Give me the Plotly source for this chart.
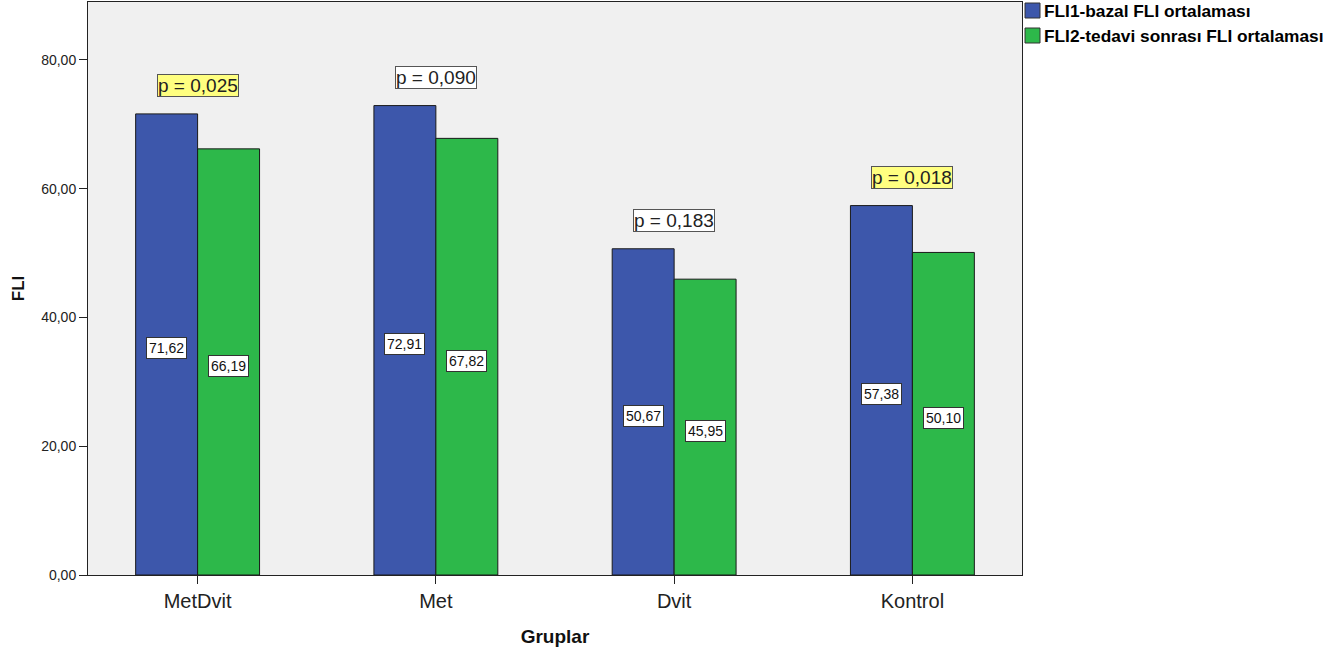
import plotly.graph_objects as go

# Groups and FLI means
gruplar = ["MetDvit", "Met", "Dvit", "Kontrol"]
fli1_bazal = [71.62, 72.91, 50.67, 57.38]
fli2_tedavi = [66.19, 67.82, 45.95, 50.10]
p_values = ["p = 0,025", "p = 0,090", "p = 0,183", "p = 0,018"]
p_significant = [True, False, False, True]
series_names = ["FLI1-bazal FLI ortalaması", "FLI2-tedavi sonrası FLI ortalaması"]

BLUE = "#3D57AB"
GREEN = "#2DB84A"
FONT = "Liberation Sans, Arial, sans-serif"

W, H = 1327, 656
ML, MR, MT, MB = 88, 305, 2, 81
PW, PH = W - ML - MR, H - MT - MB

def px_x(px):
    return (px - ML) / PW

def px_y(py):
    return 1 - (py - MT) / PH

fig = go.Figure()
fig.add_trace(go.Bar(
    x=gruplar, y=fli1_bazal, name=series_names[0], showlegend=False,
    marker=dict(color=BLUE, line=dict(color="#1a1a1a", width=1)),
))
fig.add_trace(go.Bar(
    x=gruplar, y=fli2_tedavi, name=series_names[1], showlegend=False,
    marker=dict(color=GREEN, line=dict(color="#1a1a1a", width=1)),
))

def fmt(v):
    return f"{v:.2f}".replace(".", ",")

annotations = []
offset = 0.13
for i, g in enumerate(gruplar):
    # value boxes inside the bars
    for vals, dx in ((fli1_bazal, -offset), (fli2_tedavi, offset)):
        annotations.append(dict(
            x=i + dx, y=vals[i] / 2, xref="x", yref="y",
            text=fmt(vals[i]), showarrow=False, yshift=-4,
            font=dict(family=FONT, size=14, color="#111"),
            bgcolor="white", bordercolor="#333", borderwidth=1, borderpad=2,
        ))
    # p-value boxes above each group
    annotations.append(dict(
        x=i, y=fli1_bazal[i], xref="x", yref="y",
        text=p_values[i], showarrow=False, yshift=28,
        font=dict(family=FONT, size=19, color="#222"),
        bgcolor="#FFFF80" if p_significant[i] else "white",
        bordercolor="#555", borderwidth=1, borderpad=0,
    ))

# legend drawn at the top right, next to the plot frame
shapes = []
for k, (name, col) in enumerate(zip(series_names, (BLUE, GREEN))):
    top = 3 + 25 * k
    shapes.append(dict(
        type="rect", xref="paper", yref="paper",
        x0=px_x(1025), x1=px_x(1040), y0=px_y(top + 15), y1=px_y(top),
        fillcolor=col, line=dict(color="#333", width=1),
    ))
    annotations.append(dict(
        x=px_x(1042), y=px_y(top + 8), xref="paper", yref="paper",
        xanchor="left", yanchor="middle", showarrow=False,
        text=f"<b>{name}</b>",
        font=dict(family=FONT, size=17.3, color="#000"),
    ))

fig.update_layout(
    width=W, height=H,
    margin=dict(l=ML, r=MR, t=MT, b=MB),
    paper_bgcolor="white", plot_bgcolor="#F0F0F0",
    separators=",.",
    barmode="group", bargap=0.48, bargroupgap=0,
    font=dict(family=FONT, color="#222"),
    annotations=annotations, shapes=shapes,
    showlegend=False,
)
fig.update_xaxes(
    range=[-0.46, 3.46],
    showline=True, mirror=True, linecolor="#222", linewidth=1,
    ticks="outside", ticklen=8, tickcolor="#222",
    tickfont=dict(family=FONT, size=20, color="#222"),
    title=dict(text="<b>Gruplar</b>", font=dict(family=FONT, size=19, color="#111"), standoff=18),
    showgrid=False,
)
fig.update_yaxes(
    range=[0, 89],
    tickvals=[0, 20, 40, 60, 80], tickformat=".2f",
    showline=True, mirror=True, linecolor="#222", linewidth=1,
    ticks="outside", ticklen=8, tickcolor="#222",
    tickfont=dict(family=FONT, size=14, color="#222"),
    title=dict(text="<b>FLI</b>", font=dict(family=FONT, size=17, color="#111"), standoff=12),
    showgrid=False, zeroline=False,
)

fig.write_html("out.html")
